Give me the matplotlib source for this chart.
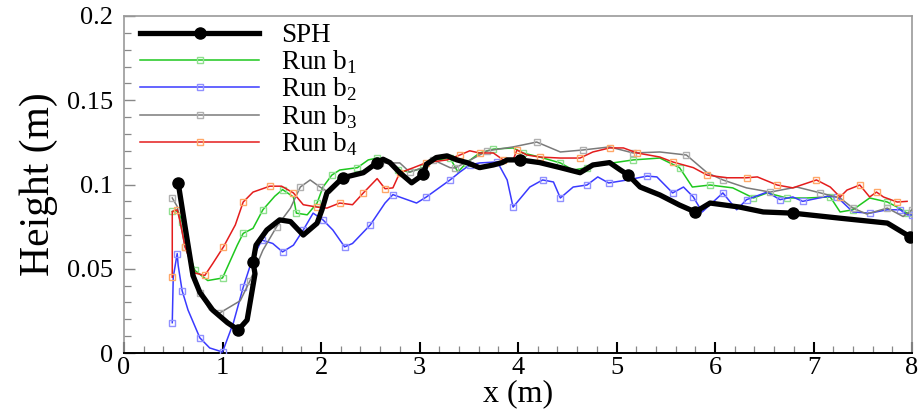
import matplotlib
matplotlib.use("Agg")
import matplotlib.pyplot as plt
from matplotlib.ticker import MultipleLocator, FuncFormatter

plt.rcParams['font.family'] = ['Liberation Serif', 'DejaVu Serif']
plt.rcParams['mathtext.fontset'] = 'custom'
plt.rcParams['mathtext.rm'] = 'Liberation Serif'

# ---------------- data ----------------
sph_x = [0.55, 0.62, 0.70, 0.77, 0.90, 1.05, 1.16, 1.25, 1.33, 1.31, 1.34, 1.45, 1.58, 1.69,
         1.82, 1.96, 2.01, 2.06, 2.22, 2.43, 2.57, 2.63, 2.70, 2.80, 2.92, 3.04, 3.07, 3.17,
         3.28, 3.38, 3.48, 3.61, 3.75, 3.84, 3.89, 4.02, 4.22, 4.43, 4.63, 4.76, 4.93, 5.04,
         5.12, 5.24, 5.44, 5.64, 5.80, 5.95, 6.25, 6.49, 6.79, 7.27, 7.75, 7.98]
sph_y = [0.101, 0.075, 0.046, 0.036, 0.0255, 0.018, 0.0137, 0.0196, 0.047, 0.054, 0.064, 0.073,
         0.079, 0.078, 0.070, 0.077, 0.085, 0.095, 0.104, 0.107, 0.113, 0.115, 0.113, 0.107,
         0.101, 0.106, 0.112, 0.116, 0.117, 0.1146, 0.113, 0.110, 0.1116, 0.113, 0.1146, 0.1146,
         0.113, 0.110, 0.107, 0.1116, 0.113, 0.1086, 0.1056, 0.0985, 0.0938, 0.0878, 0.0837,
         0.089, 0.0866, 0.0837, 0.083, 0.080, 0.0771, 0.069]
sph_marks = [0, 6, 9, 18, 20, 25, 35, 42, 46, 50, 53]

b1_x = [0.49, 0.55, 0.59, 0.64, 0.72, 0.85, 1.0, 1.15, 1.21, 1.31, 1.41, 1.53, 1.61, 1.72, 1.75,
        1.86, 1.96, 2.02, 2.11, 2.19, 2.37, 2.48, 2.57, 2.70, 2.78, 2.90, 3.04, 3.17, 3.31, 3.39,
        3.48, 3.61, 3.75, 3.95, 4.05, 4.22, 4.43, 4.56, 4.70, 4.96, 5.17, 5.44, 5.64, 5.77, 5.95,
        6.18, 6.39, 6.53, 6.73, 6.93, 7.17, 7.27, 7.40, 7.57, 7.75, 7.85, 7.95, 8.0]
b1_y = [0.084, 0.084, 0.078, 0.063, 0.049, 0.043, 0.0445, 0.064, 0.071, 0.074, 0.085, 0.093,
        0.097, 0.0926, 0.083, 0.082, 0.089, 0.0985, 0.1056, 0.1086, 0.110, 0.1146, 0.1157, 0.113,
        0.1086, 0.1074, 0.110, 0.1146, 0.1157, 0.1074, 0.113, 0.1187, 0.121, 0.1217, 0.1187,
        0.1163, 0.1128, 0.1086, 0.110, 0.1128, 0.1146, 0.1157, 0.110, 0.0985, 0.0997, 0.098,
        0.092, 0.095, 0.092, 0.092, 0.0926, 0.0837, 0.085, 0.092, 0.0896, 0.0866, 0.083, 0.082]

b2_x = [0.49, 0.50, 0.54, 0.55, 0.59, 0.65, 0.77, 0.87, 1.0, 1.11, 1.21, 1.31, 1.40, 1.51, 1.61,
        1.72, 1.82, 1.92, 2.02, 2.12, 2.24, 2.32, 2.50, 2.65, 2.73, 2.97, 3.07, 3.21, 3.31, 3.41,
        3.51, 3.61, 3.79, 3.89, 3.95, 4.12, 4.25, 4.36, 4.43, 4.56, 4.70, 4.81, 4.92, 5.11, 5.31,
        5.41, 5.57, 5.68, 5.78, 5.87, 6.08, 6.22, 6.32, 6.53, 6.66, 6.79, 6.89, 7.14, 7.24, 7.40,
        7.57, 7.75, 7.88, 7.95, 8.0]
b2_y = [0.018, 0.045, 0.059, 0.052, 0.037, 0.0255, 0.009, 0.003, 0.0006, 0.0178, 0.039, 0.057,
        0.067, 0.065, 0.060, 0.064, 0.073, 0.083, 0.079, 0.073, 0.063, 0.065, 0.076, 0.089, 0.094,
        0.089, 0.0926, 0.0985, 0.1027, 0.1074, 0.1116, 0.1128, 0.1134, 0.1027, 0.0866, 0.0985,
        0.1027, 0.1015, 0.092, 0.0985, 0.0997, 0.1045, 0.1009, 0.1027, 0.105, 0.1045, 0.095,
        0.0985, 0.0926, 0.0837, 0.095, 0.085, 0.091, 0.0955, 0.091, 0.0926, 0.090, 0.093, 0.0926,
        0.0837, 0.083, 0.085, 0.085, 0.082, 0.082]

b3_x = [0.49, 0.54, 0.62, 0.70, 0.77, 0.87, 0.97, 1.18, 1.28, 1.41, 1.55, 1.69, 1.79, 1.89, 1.99,
        2.09, 2.22, 2.40, 2.60, 2.80, 2.90, 3.04, 3.14, 3.31, 3.36, 3.48, 3.69, 3.95, 4.19, 4.43,
        4.66, 4.93, 5.17, 5.44, 5.71, 5.92, 6.08, 6.32, 6.56, 6.83, 7.07, 7.27, 7.40, 7.54, 7.75,
        7.91, 8.0]
b3_y = [0.092, 0.087, 0.063, 0.050, 0.0356, 0.0255, 0.0237, 0.031, 0.043, 0.061, 0.075, 0.086,
        0.0985, 0.1027, 0.0985, 0.095, 0.1027, 0.1068, 0.1128, 0.1128, 0.1074, 0.110, 0.1146,
        0.110, 0.1098, 0.1134, 0.120, 0.1223, 0.1252, 0.1193, 0.1205, 0.1223, 0.1187, 0.1193,
        0.1175, 0.107, 0.1027, 0.098, 0.0955, 0.0985, 0.095, 0.092, 0.086, 0.0825, 0.086, 0.081,
        0.085]

b4_x = [0.49, 0.49, 0.54, 0.57, 0.62, 0.72, 0.82, 0.90, 1.01, 1.13, 1.21, 1.31, 1.48, 1.60, 1.72,
        1.82, 1.96, 2.06, 2.19, 2.32, 2.43, 2.57, 2.65, 2.73, 2.80, 2.94, 3.07, 3.28, 3.41, 3.51,
        3.61, 3.75, 3.85, 3.95, 3.99, 4.09, 4.22, 4.43, 4.63, 4.76, 4.93, 5.07, 5.21, 5.44, 5.57,
        5.78, 5.92, 6.12, 6.32, 6.43, 6.63, 6.79, 7.03, 7.17, 7.27, 7.34, 7.47, 7.57, 7.64, 7.71,
        7.85, 7.95]
b4_y = [0.045, 0.084, 0.085, 0.078, 0.063, 0.0475, 0.046, 0.053, 0.063, 0.076, 0.0896, 0.0955,
        0.099, 0.099, 0.095, 0.088, 0.0866, 0.086, 0.089, 0.088, 0.095, 0.1035, 0.0975, 0.098,
        0.107, 0.110, 0.113, 0.1146, 0.1175, 0.120, 0.1187, 0.1187, 0.1146, 0.1146, 0.1205,
        0.1175, 0.1163, 0.1157, 0.1157, 0.1193, 0.1217, 0.1217, 0.1187, 0.1163, 0.1134, 0.110,
        0.1056, 0.104, 0.104, 0.1045, 0.0997, 0.098, 0.1027, 0.0985, 0.0926, 0.0967, 0.0997,
        0.0926, 0.0955, 0.0926, 0.0896, 0.090]

labels = ['SPH', r'Run b$_\mathregular{1}$', r'Run b$_\mathregular{2}$',
          r'Run b$_\mathregular{3}$', r'Run b$_\mathregular{4}$']
x_ticks = [0, 1, 2, 3, 4, 5, 6, 7, 8]
y_ticks = [0, 0.05, 0.1, 0.15, 0.2]

# ---------------- figure ----------------
fig = plt.figure(figsize=(9.24, 4.12), dpi=100)
ax = fig.add_axes([124/924, 1-353/412, 788/924, 337/412])

runs = [
    (b1_x, b1_y, '#1ec81e', '#8fe08f'),
    (b2_x, b2_y, '#3a3aff', '#9090ff'),
    (b3_x, b3_y, '#7a7a7a', '#b0b0b0'),
    (b4_x, b4_y, '#e41c1c', '#ffa868'),
]
handles = []
h, = ax.plot(sph_x, sph_y, color='black', lw=3.8, marker='o', ms=8,
             markevery=sph_marks, zorder=5, solid_joinstyle='round')
handles.append(h)
for (xs, ys, c, mc) in runs:
    h, = ax.plot(xs, ys, color=c, lw=1.1, marker='s', ms=3.8, mfc='none', mec=mc,
                 mew=1.0, markevery=2, zorder=3)
    handles.append(h)

ax.set_xlim(0, 8)
ax.set_ylim(0, 0.2)
ax.set_xticks(x_ticks)
ax.set_yticks(y_ticks)
ax.xaxis.set_minor_locator(MultipleLocator(0.2))
ax.yaxis.set_minor_locator(MultipleLocator(0.01))
ax.yaxis.set_major_formatter(FuncFormatter(lambda v, p: '%g' % round(v, 3)))
ax.xaxis.set_major_formatter(FuncFormatter(lambda v, p: '%g' % v))

for s in ['top', 'right', 'left']:
    ax.spines[s].set_color('#9a9a9a')
    ax.spines[s].set_linewidth(1.2)
ax.spines['bottom'].set_color('black')
ax.spines['bottom'].set_linewidth(1.4)

ax.tick_params(axis='x', which='major', direction='in', length=8, width=1.5,
               color='black', labelsize=19, pad=3)
ax.tick_params(axis='x', which='minor', direction='in', length=5, width=0.9, color='#888888')
ax.tick_params(axis='y', which='major', direction='in', length=8, width=1.0,
               color='#888888', labelsize=19, pad=8)
ax.tick_params(axis='y', which='minor', direction='in', length=5, width=0.9, color='#888888')

ax.set_xlabel('x (m)', fontsize=23, labelpad=0)
ax.set_ylabel('Height (m)', fontsize=30, labelpad=6)

leg = ax.legend(handles, labels, loc='upper left', bbox_to_anchor=(0.0203, 0.978),
                frameon=False, fontsize=19.5, handlelength=4.4, handletextpad=0.8,
                labelspacing=0.0, borderaxespad=0.0, borderpad=0.0, markerscale=1.0)

fig.savefig('out.png', dpi=100)
